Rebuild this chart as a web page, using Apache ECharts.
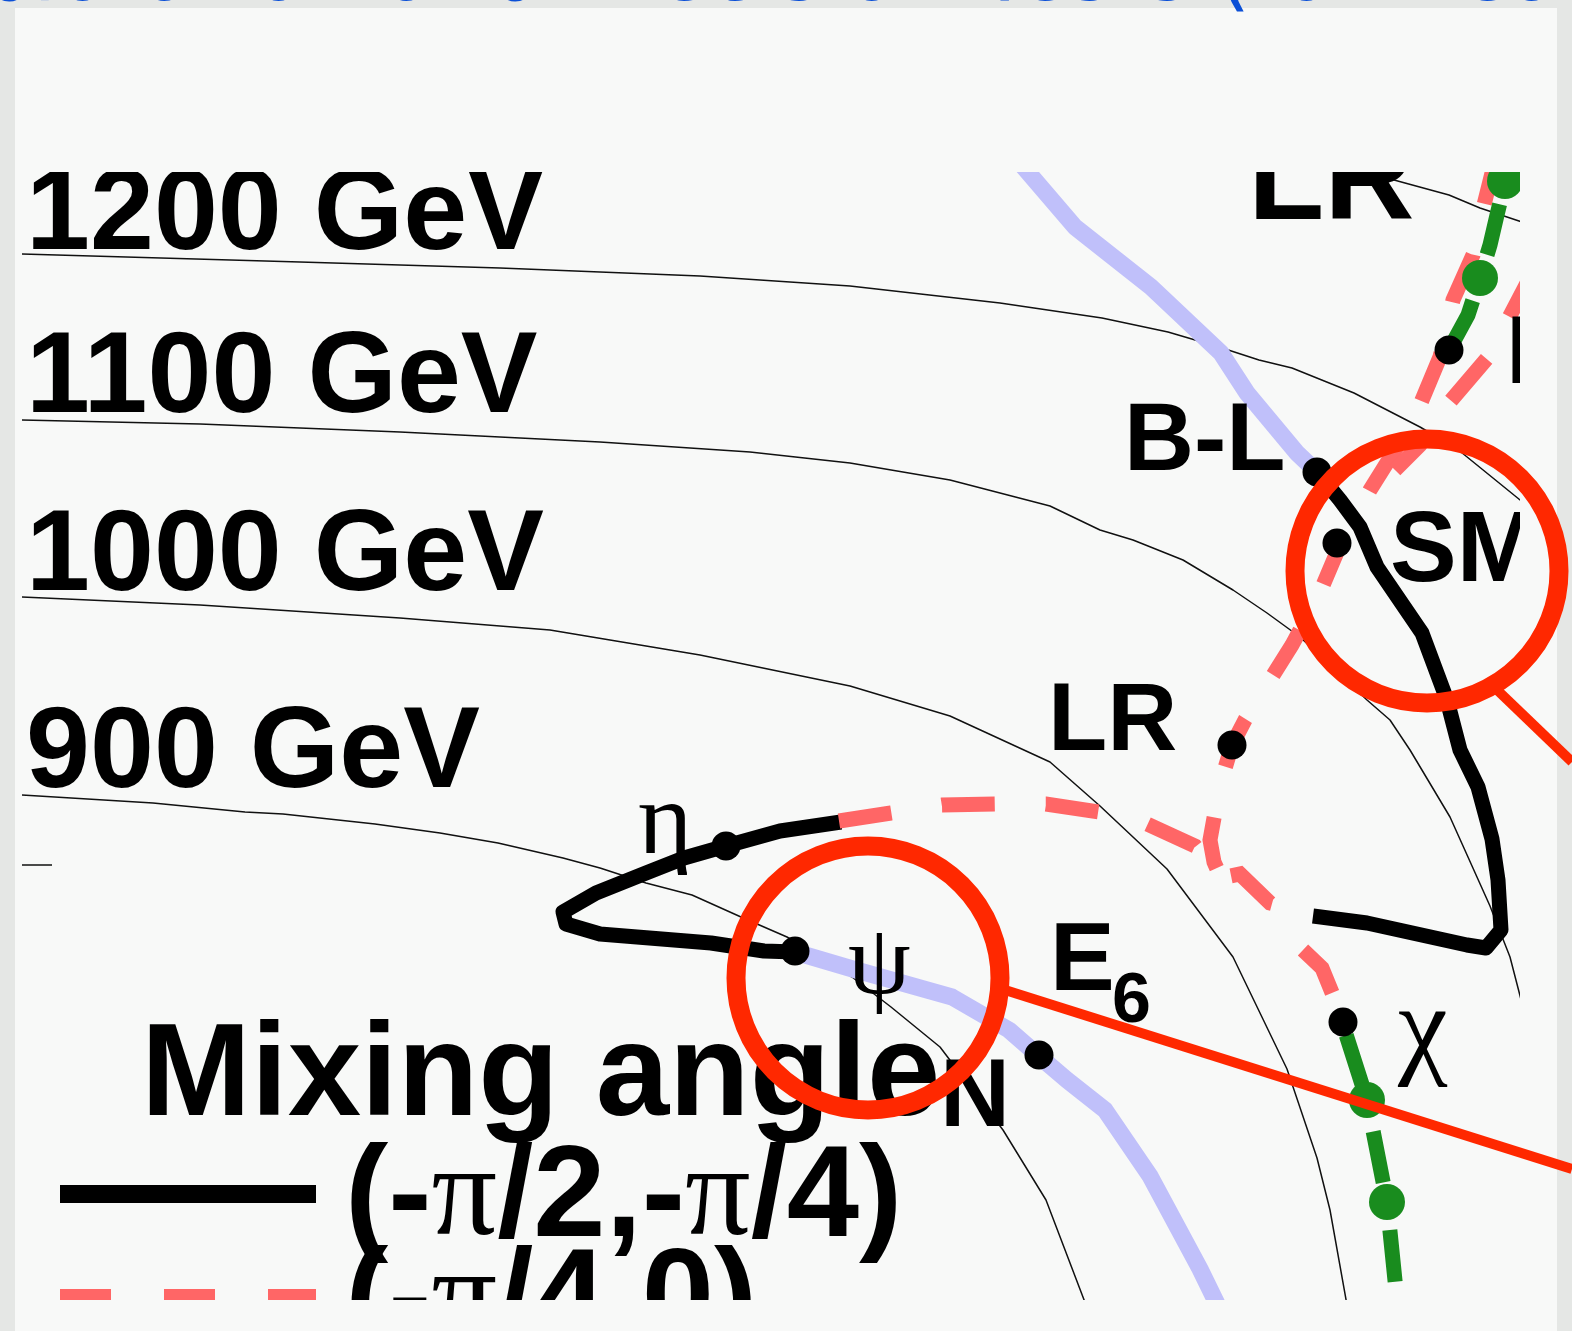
<!DOCTYPE html>
<html>
<head>
<meta charset="utf-8">
<title>Z' mixing angle</title>
<script src="https://cdn.jsdelivr.net/npm/echarts@6.0.0/dist/echarts.min.js"></script>
<style>
  html, body { margin: 0; padding: 0; background: #e5e7e5; }
  #chart { width: 1572px; height: 1331px; }
</style>
</head>
<body>
<div id="chart"></div>
<script>
// contours of constant mass (plot units)
const contour1300 = [[1365, 172], [1405, 183], [1449, 195], [1480, 208], [1525, 223]]
const contour1200 = [[22, 254], [300, 262], [500, 268], [700, 276], [850, 286], [1000, 303], [1102, 318], [1168, 332], [1219, 347], [1259, 360], [1292, 368], [1354, 393], [1420, 427], [1456, 448], [1525, 504]]
const contour1100 = [[22, 420], [200, 424], [400, 432], [600, 442], [750, 452], [850, 463], [950, 480], [1050, 506], [1100, 530], [1133, 540], [1183, 560], [1233, 590], [1267, 613], [1300, 637], [1367, 700], [1390, 720], [1410, 750], [1450, 817], [1490, 906], [1510, 957], [1525, 1015]]
const contour1000 = [[22, 597], [200, 605], [400, 618], [550, 630], [700, 655], [850, 686], [950, 716], [1050, 762], [1100, 806], [1167, 869], [1233, 957], [1287, 1069], [1317, 1158], [1330, 1210], [1347, 1305]]
const contour900 = [[22, 795], [153, 803], [245, 812], [283, 814], [375, 824], [440, 833], [498, 843], [563, 858], [600, 868], [646, 883], [692, 895], [741, 917], [787, 937], [852, 977], [891, 1007], [940, 1047], [1003, 1130], [1046, 1200], [1086, 1305]]
const tickMark = [[22, 865], [52, 865]]

// mixing angle trajectories
const lavenderUpper = [[1021, 164], [1075, 227], [1151, 287], [1221, 353], [1247, 393], [1297, 453], [1317, 472]]
const lavenderLower = [[795, 952], [856, 970], [952, 997], [1009, 1030], [1040, 1057], [1067, 1080], [1105, 1110], [1150, 1176], [1200, 1269], [1220, 1310]]
const blackRight = [[1317, 472], [1340, 500], [1360, 527], [1377, 567], [1422, 633], [1447, 700], [1460, 750], [1478, 787], [1492, 839], [1498, 880], [1501, 930], [1486, 948], [1467, 945], [1367, 923], [1313, 916]]
const blackLeft = [[841, 822], [780, 831], [726, 846], [684, 858], [646, 873], [596, 893], [563, 912], [566, 924], [600, 934], [711, 943], [764, 951], [795, 952]]
const redFromEta = [[839, 821], [891, 813], [942, 805], [996, 804], [1046, 804], [1099, 812], [1147, 824], [1195, 846], [1220, 878], [1240, 874], [1270, 903], [1313, 915]]
const redToChi = [[1303, 950], [1322, 968], [1333, 995], [1342, 1022]]
const redTop = [[1494, 165], [1484, 205], [1473, 255], [1453, 300], [1440, 357], [1415, 417], [1395, 450], [1370, 490], [1340, 545], [1318, 597], [1292, 645], [1265, 688], [1245, 720], [1232, 745], [1220, 785], [1210, 840], [1214, 862], [1222, 880]]
const redRight = [[1535, 268], [1489, 356], [1449, 403], [1420, 445], [1395, 470]]
const greenUpper = [[1449, 350], [1468, 315], [1480, 278], [1490, 245], [1497, 215], [1505, 182], [1510, 160]]
const greenLower = [[1342, 1022], [1367, 1100], [1387, 1202], [1397, 1300], [1400, 1330]]
const greenDots = [[1480, 278], [1505, 181], [1367, 1100], [1387, 1202], [1397, 1302]]
const modelDots = [[1317, 472], [1337, 543], [1232, 745], [726, 846], [795, 951], [1039, 1055], [1343, 1022], [1449, 350]]

// text
const gevLabels = [[26, 217, '1200 GeV'], [26, 380, '1100 GeV'], [26, 558, '1000 GeV'], [26, 755, '900 GeV']]
const topLabel = [[1248, 185, 'LR']]
const modelLabels = [[1124, 443, 'B-L'], [1048, 723, 'LR'], [1050, 963, 'E'], [940, 1099, 'N'], [1506, 356, 'I']]
const smLabel = [[1390, 553, 'SM']]
const subLabels = [[1112, 1003, '6']]
const greekLabels = [[638, 826, 'η', 104], [848, 967, 'ψ', 100], [1398, 1034, 'χ', 112]]
const headingLabel = [[141, 1079, 'Mixing angle']]
const legendLabels = [[345, 1200, '(-π/2,-π/4)'], [345, 1303, '(-π/4,0)']]
const legendBlack = [[60, 1194], [316, 1194]]
const legendRed = [[60, 1295], [316, 1295]]

// highlight circles and pointers
const circleCentres = [[1427, 571], [868, 978]]
const pointerOne = [[1493, 686], [1572, 762]]
const pointerTwo = [[1005, 990], [1572, 1169]]

const panel = '#f8f9f8'
const sans = '"Liberation Sans", Arial, sans-serif'
const serif = '"Liberation Serif", "Times New Roman", serif'

let myChart = echarts.init(document.getElementById('chart'))

function plainLine (data, color, width, extra) {
  return Object.assign({
    type: 'line',
    data: data,
    symbol: 'none',
    silent: true,
    z: 2,
    lineStyle: { color: color, width: width, cap: 'butt', join: 'round', opacity: 1 }
  }, extra || {})
}

function dashed (data, color, width, dash, offset) {
  let s = plainLine(data, color, width)
  s.lineStyle.type = dash
  s.lineStyle.dashOffset = offset
  s.lineStyle.join = 'miter'
  return s
}

function textSeries (list, style) {
  return {
    type: 'scatter',
    data: list.map(d => ({ value: [d[0], d[1]], name: d[2] })),
    symbolSize: 1,
    silent: true,
    clip: false,
    z: 3,
    itemStyle: { color: 'rgba(0,0,0,0)', opacity: 1 },
    label: Object.assign({
      show: true,
      position: 'inside',
      align: 'left',
      verticalAlign: 'middle',
      color: '#000',
      opacity: 1,
      formatter: p => p.name
    }, style)
  }
}

let greek = textSeries(greekLabels, { fontFamily: serif, fontSize: 100 })
greek.data = greekLabels.map(d => ({
  value: [d[0], d[1]],
  name: d[2],
  label: { fontSize: d[3] }
}))

myChart.setOption({
  animation: false,
  backgroundColor: '#e5e7e5',
  grid: { left: 22, right: 0, top: 172, bottom: 31 },
  xAxis: { type: 'value', min: 22, max: 1572, show: false },
  yAxis: { type: 'value', min: 172, max: 1300, inverse: true, show: false },
  graphic: [
    { type: 'rect', z: 0, silent: true, shape: { x: 15, y: 8, width: 1542, height: 1330 }, style: { fill: panel } },
    // masks that trim the plot to its frame
    { type: 'rect', z: 5, silent: true, shape: { x: 15, y: 8, width: 1542, height: 164 }, style: { fill: panel } },
    { type: 'rect', z: 5, silent: true, shape: { x: 15, y: 1300, width: 1542, height: 40 }, style: { fill: panel } },
    { type: 'rect', z: 5, silent: true, shape: { x: 1520, y: 172, width: 37, height: 1128 }, style: { fill: panel } },
    { type: 'rect', z: 5, silent: true, shape: { x: 1557, y: 0, width: 20, height: 1331 }, style: { fill: '#e5e7e5' } },
    {
      type: 'text',
      z: 20,
      silent: true,
      x: -125,
      y: -22,
      style: {
        text: 'Exploration and Precision Tests (for Heavy Z\u2032)',
        font: 'normal 85px "DejaVu Sans", sans-serif',
        fill: '#0b4fd6',
        textVerticalAlign: 'middle'
      }
    }
  ],
  series: [
    plainLine(contour1300, '#111', 1.5),
    plainLine(contour1200, '#111', 1.5),
    plainLine(contour1100, '#111', 1.5),
    plainLine(contour1000, '#111', 1.5),
    plainLine(contour900, '#111', 1.5),
    plainLine(tickMark, '#111', 1.5),
    plainLine(lavenderUpper, '#c0c0fa', 17),
    plainLine(lavenderLower, '#c0c0fa', 17),
    plainLine(blackRight, '#000', 15),
    plainLine(blackLeft, '#000', 15),
    dashed(redFromEta, '#ff6666', 15, [53, 51], 0),
    dashed(redToChi, '#ff6666', 15, [53, 51], 0),
    dashed(redTop, '#ff6666', 15, [52, 52], 12),
    dashed(redRight, '#ff6666', 15, [55, 48], 0),
    dashed(greenUpper, '#198c1e', 15, [52, 48], 97),
    dashed(greenLower, '#198c1e', 15, [52, 48], 86),
    {
      type: 'scatter', data: greenDots, symbolSize: 36, silent: true, z: 3,
      itemStyle: { color: '#198c1e', opacity: 1 }
    },
    {
      type: 'scatter', data: modelDots, symbolSize: 29, silent: true, z: 4,
      itemStyle: { color: '#000', opacity: 1 }
    },
    textSeries(gevLabels, { fontFamily: sans, fontWeight: 'bold', fontSize: 115 }),
    textSeries(topLabel, { fontFamily: sans, fontWeight: 'bold', fontSize: 125 }),
    textSeries(modelLabels, { fontFamily: sans, fontWeight: 'bold', fontSize: 97 }),
    textSeries(smLabel, { fontFamily: sans, fontWeight: 'bold', fontSize: 100 }),
    textSeries(subLabels, { fontFamily: sans, fontWeight: 'bold', fontSize: 70 }),
    greek,
    textSeries(headingLabel, { fontFamily: sans, fontWeight: 'bold', fontSize: 132 }),
    textSeries(legendLabels, {
      fontFamily: sans,
      fontWeight: 'bold',
      fontSize: 130,
      formatter: p => p.name.replace(/π/g, '{p|π}'),
      rich: { p: { fontFamily: serif, fontWeight: 'normal', fontSize: 130, color: '#000' } }
    }),
    plainLine(legendBlack, '#000', 18),
    dashed(legendRed, '#ff6666', 12, [51, 53], 0),
    // red highlight circles, drawn above the frame masks
    {
      type: 'scatter', data: circleCentres, symbolSize: 264, silent: true, z: 10, clip: false,
      itemStyle: { color: 'rgba(0,0,0,0)', borderColor: '#ff2800', borderWidth: 19, opacity: 1 }
    },
    plainLine(pointerOne, '#ff2800', 10, { z: 10, clip: false }),
    plainLine(pointerTwo, '#ff2800', 10, { z: 10, clip: false })
  ]
})
</script>
</body>
</html>
